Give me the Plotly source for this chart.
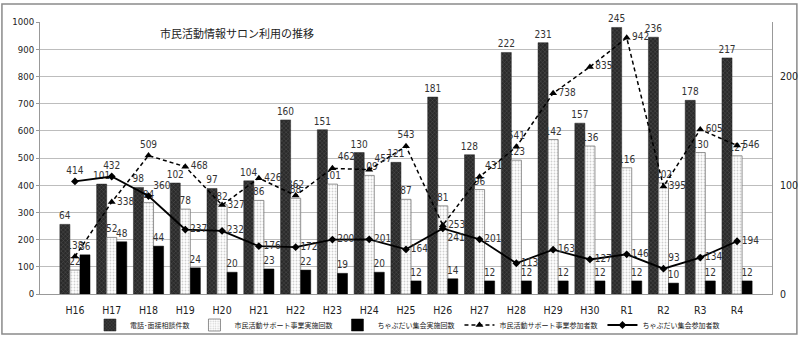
import plotly.graph_objects as go

categories = ["H16", "H17", "H18", "H19", "H20", "H21", "H22", "H23", "H24", "H25",
              "H26", "H27", "H28", "H29", "H30", "R1", "R2", "R3", "R4"]

consult = [64, 101, 98, 102, 97, 104, 160, 151, 130, 121, 181, 128, 222, 231, 157, 245, 236, 178, 217]
support_sessions = [22, 52, 84, 78, 82, 86, 88, 101, 109, 87, 81, 96, 123, 142, 136, 116, 102, 130, 127]
chabudai_sessions = [36, 48, 44, 24, 20, 23, 22, 19, 20, 12, 14, 12, 12, 12, 12, 12, 10, 12, 12]
support_participants = [138, 338, 509, 468, 327, 426, 362, 462, 457, 543, 253, 431, 541, 738, 835, 942, 395, 605, 546]
chabudai_participants = [414, 432, 360, 237, 232, 176, 172, 200, 201, 164, 241, 201, 113, 163, 127, 146, 93, 134, 194]

names = ["電話･面接相談件数", "市民活動サポート事業実施回数", "ちゃぶだい集会実施回数",
         "市民活動サポート事業参加者数", "ちゃぶだい集会参加者数"]
title_text = "市民活動情報サロン利用の推移"

NUM_FONT = "Liberation Sans Narrow, Arial Narrow, DejaVu Sans Condensed, Liberation Sans, sans-serif"
JP_FONT = "Noto Sans CJK JP, sans-serif"

pos_support = ["top center", "middle right", "top center", "middle right", "middle right",
               "middle right", "top center", "top right", "top right", "top center",
               "middle right", "top right", "top center", "middle right", "middle right",
               "middle right", "middle right", "middle right", "middle right"]
pos_chabudai = ["top center", "top center", "top right", "middle right", "middle right",
                "middle right", "middle right", "middle right", "middle right", "middle right",
                "bottom right", "middle right", "middle right", "middle right", "middle right",
                "middle right", "top right", "middle right", "middle right"]

fig = go.Figure()

LABEL_COLOR = "#333"
bar_text_font = dict(family=NUM_FONT, size=10, color=LABEL_COLOR)

fig.add_trace(go.Bar(
    x=categories, y=consult, name=names[0], yaxis="y",
    marker=dict(color="#2a2a2a", line=dict(color="#222", width=0.5),
                pattern=dict(shape="x", fgcolor="#8a8a8a", size=3, solidity=0.25)),
    text=consult, textposition="outside", textfont=bar_text_font,
    constraintext="none", cliponaxis=False,
))
fig.add_trace(go.Bar(
    x=categories, y=support_sessions, name=names[1], yaxis="y",
    marker=dict(color="white", line=dict(color="#777", width=0.8),
                pattern=dict(shape=".", fgcolor="#a0a0a0", bgcolor="white", size=3, solidity=0.3)),
    text=support_sessions, textposition="outside", textfont=bar_text_font,
    constraintext="none", cliponaxis=False,
))
fig.add_trace(go.Bar(
    x=categories, y=chabudai_sessions, name=names[2], yaxis="y",
    marker=dict(color="black", line=dict(color="black", width=0.5)),
    text=chabudai_sessions, textposition="outside", textfont=bar_text_font,
    constraintext="none", cliponaxis=False,
))
fig.add_trace(go.Scatter(
    x=categories, y=support_participants, name=names[3], yaxis="y2",
    mode="lines+markers+text",
    line=dict(color="black", width=1.5, dash="4px,3px"),
    marker=dict(symbol="triangle-up", size=7, color="black"),
    text=support_participants, textposition=pos_support,
    textfont=dict(family=NUM_FONT, size=10, color=LABEL_COLOR),
    cliponaxis=False,
))
fig.add_trace(go.Scatter(
    x=categories, y=chabudai_participants, name=names[4], yaxis="y2",
    mode="lines+markers+text",
    line=dict(color="black", width=1.8),
    marker=dict(symbol="diamond", size=6, color="black"),
    text=chabudai_participants, textposition=pos_chabudai,
    textfont=dict(family=NUM_FONT, size=10, color=LABEL_COLOR),
    cliponaxis=False,
))

fig.update_layout(
    width=800, height=341,
    margin=dict(l=40, r=28, t=22, b=47, autoexpand=False),
    paper_bgcolor="white", plot_bgcolor="white",
    barmode="group", bargap=0.18, bargroupgap=0,
    font=dict(family=NUM_FONT, size=10, color="#222"),
    xaxis=dict(type="category", range=[-0.95, 18.95], showline=True, linecolor="#999",
               linewidth=1, ticks="", ticklabelstandoff=6,
               tickfont=dict(family=NUM_FONT, size=10.5, color="#222"),
               showgrid=False),
    yaxis=dict(side="right", range=[0, 250], dtick=100, showgrid=False, zeroline=False,
               showline=True, linecolor="#999", linewidth=1, ticks="", ticklabelstandoff=5,
               tickfont=dict(family=NUM_FONT, size=10.5, color="#222")),
    yaxis2=dict(overlaying="y", side="left", range=[0, 1000], dtick=100,
                showgrid=True, gridcolor="#bdbdbd", gridwidth=1, zeroline=False,
                showline=True, linecolor="#999", linewidth=1, ticks="outside", ticklen=3,
                tickcolor="#999",
                tickfont=dict(family=NUM_FONT, size=9.5, color="#222")),
    legend=dict(orientation="h", x=0.502, xanchor="center", y=-0.114, yanchor="middle",
                font=dict(family=JP_FONT, size=7, color="#222"),
                itemwidth=30, tracegroupgap=0, bgcolor="rgba(0,0,0,0)"),
    showlegend=True,
    annotations=[dict(text=title_text, xref="paper", yref="paper", x=0.161, y=0.96,
                      xanchor="left", yanchor="middle", showarrow=False,
                      font=dict(family=JP_FONT, size=11, color="#222"))],
    shapes=[dict(type="rect", xref="paper", yref="paper", x0=-0.052, x1=1.034,
                 y0=-0.147, y1=1.066, line=dict(color="#8a8a8a", width=1.5),
                 fillcolor="rgba(0,0,0,0)", layer="below")],
)

fig.write_html("out.html")
